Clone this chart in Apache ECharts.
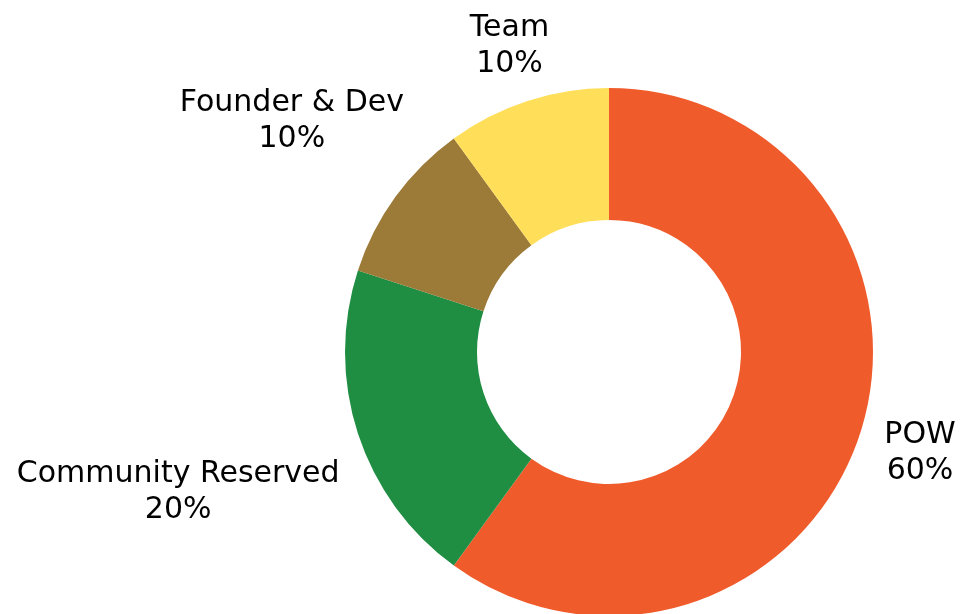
<!DOCTYPE html>
<html>
<head>
<meta charset="utf-8">
<script src="https://cdn.jsdelivr.net/npm/echarts@6/dist/echarts.min.js"></script>
<style>
  html, body { margin: 0; padding: 0; background: #fff; }
  #main { width: 960px; height: 614px; }
</style>
</head>
<body>
<div id="main"></div>
<script>
// data
let names = ["POW", "Community Reserved", "Founder & Dev", "Team"];
let values = [60, 20, 10, 10];
let colors = ["#F05B2B", "#1F8E43", "#9C7A38", "#FFDE59"];
// how far each label sits from the centre (px)
let labelDist = [327, 453, 392, 322];

let cx = 609, cy = 352;

let myChart = document.getElementById("main");
let initChart = echarts.init(myChart, null, { renderer: "canvas" });

let total = values.reduce((a, b) => a + b, 0);

let option = {
  animation: false,
  series: [
    {
      type: "pie",
      center: [cx, cy],
      radius: [132, 264],
      startAngle: 90,
      clockwise: true,
      data: names.map((n, i) => ({
        name: n,
        value: values[i],
        itemStyle: { color: colors[i] },
      })),
      label: {
        show: true,
        position: "outside",
        overflow: "none",
        formatter: (p) => p.name + "\n" + Math.round((p.value / total) * 100) + "%",
        fontFamily: "DejaVu Sans",
        fontSize: 30,
        lineHeight: 36,
        color: "#000",
        align: "center",
      },
      labelLine: { show: false },
      labelLayout: (p) => {
        // mid angle of slice, clockwise from top
        let before = 0;
        for (let i = 0; i < p.dataIndex; i++) before += values[i];
        let mid = ((before + values[p.dataIndex] / 2) / total) * Math.PI * 2;
        let d = labelDist[p.dataIndex];
        return {
          x: cx + Math.sin(mid) * d,
          y: cy - Math.cos(mid) * d,
          align: "center",
          verticalAlign: "middle",
        };
      },
    },
  ],
};

initChart.setOption(option);
</script>
</body>
</html>
